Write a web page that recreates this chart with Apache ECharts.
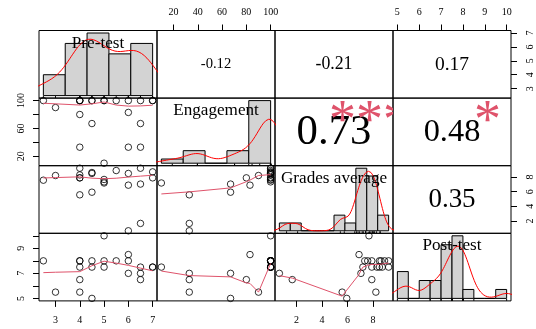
<!DOCTYPE html>
<html><head><meta charset="utf-8">
<script src="https://cdn.jsdelivr.net/npm/echarts@6/dist/echarts.min.js"></script>
<style>html,body{margin:0;padding:0;background:#fff}#c{width:536px;height:329px}</style>
</head><body><div id="c"></div>
<script>
// ---------------- data ----------------
const varNames = ['Pre-test', 'Engagement', 'Grades average', 'Post-test'];
const preTest    = [2.5, 3, 4, 4, 4, 4, 4, 4.5, 4.5, 4.5, 5, 5, 5, 5.5, 6, 6, 6, 6.5, 6.5, 6.5, 7, 7];
const engagement = [100, 90, 100, 100, 100, 80, 33, 100, 100, 67, 100, 100, 10, 100, 83, 100, 33, 100, 67, 33, 100, 100];
const grades     = [7.58, 8.22, 9.22, 7.9, 8.3, 7.9, 5.58, 8.63, 8.5, 5.94, 7.68, 7.35, 7.2, 8.9, 6.9, 8.5, 0.66, 9.22, 7.05, 1.67, 8.72, 7.9];
const postTest   = [8, 5.5, 8, 8, 7.5, 6.5, 5.5, 8, 7.5, 5, 10, 8, 7.5, 8, 8.5, 8, 7, 7.5, 7, 6.5, 7.5, 7.5];

const preBreaks  = [2.5, 3.4, 4.3, 5.2, 6.1, 7.0];
const engBreaks  = [0, 20, 40, 60, 80, 100];
const grdBreaks  = [0, 1, 2, 3, 4, 5, 6, 7, 8, 9, 10];
const postBreaks = [5, 5.5, 6, 6.5, 7, 7.5, 8, 8.5, 9, 9.5, 10];

const preTicks = [3, 4, 5, 6, 7];
const engTicks = [20, 40, 60, 80, 100];
const engLeftLabels = [20, 60, 100];
const grdTicks = [2, 4, 6, 8];
const postTicks = [5, 6, 7, 8, 9, 10];
const postLeftLabels = [5, 7, 9];

// upper panels in order (0,1),(0,2),(0,3),(1,2),(1,3),(2,3)
const corrLabels = ['-0.12', '-0.21', '0.17', '0.73', '0.48', '0.35'];
const corrStars  = ['', '', '', '***', '*', ''];

// ---------------- helpers ----------------
const FONT = '"Liberation Serif", "Times New Roman", serif';
const vars = [preTest, engagement, grades, postTest];
const breaksAll = [preBreaks, engBreaks, grdBreaks, postBreaks];
const N = preTest.length;
function ext(lo, hi) { const d = hi - lo; return [lo - 0.04 * d, hi + 0.04 * d]; }
const ranges = vars.map(v => ext(Math.min(...v), Math.max(...v)));

function lowess(xIn, yIn, f, nsteps) {
  const n = xIn.length;
  const idx = xIn.map((_, i) => i).sort((a, b) => (xIn[a] - xIn[b]) || (a - b));
  const x = idx.map(i => xIn[i]), y = idx.map(i => yIn[i]);
  const delta = 0.01 * (x[n - 1] - x[0]);
  const ys = new Array(n).fill(0), rw = new Array(n).fill(0), res = new Array(n).fill(0);
  const ns = Math.max(2, Math.min(n, Math.floor(f * n + 1e-7)));
  const X = i => x[i - 1], Y = i => y[i - 1];
  function lowest(xs, nleft, nright, userw) {
    const range = X(n) - X(1);
    const h = Math.max(xs - X(nleft), X(nright) - xs);
    const h9 = 0.999 * h, h1 = 0.001 * h;
    const w = res;
    let a = 0, j = nleft;
    while (j <= n) {
      w[j - 1] = 0;
      const r = Math.abs(X(j) - xs);
      if (r <= h9) {
        w[j - 1] = r <= h1 ? 1 : Math.pow(1 - Math.pow(r / h, 3), 3);
        if (userw) w[j - 1] *= rw[j - 1];
        a += w[j - 1];
      } else if (X(j) > xs) break;
      j++;
    }
    const nrt = j - 1;
    if (a <= 0) return null;
    for (j = nleft; j <= nrt; j++) w[j - 1] /= a;
    if (h > 0) {
      a = 0;
      for (j = nleft; j <= nrt; j++) a += w[j - 1] * X(j);
      let b = xs - a, c = 0;
      for (j = nleft; j <= nrt; j++) c += w[j - 1] * (X(j) - a) * (X(j) - a);
      if (Math.sqrt(c) > 0.001 * range) {
        b /= c;
        for (j = nleft; j <= nrt; j++) w[j - 1] *= (b * (X(j) - a) + 1);
      }
    }
    let s = 0;
    for (j = nleft; j <= nrt; j++) s += w[j - 1] * Y(j);
    return s;
  }
  let iter = 1;
  while (iter <= nsteps + 1) {
    let nleft = 1, nright = ns, last = 0, i = 1;
    for (;;) {
      if (nright < n) {
        const d1 = X(i) - X(nleft), d2 = X(nright + 1) - X(i);
        if (d1 > d2) { nleft++; nright++; continue; }
      }
      const v = lowest(X(i), nleft, nright, iter > 1);
      ys[i - 1] = v === null ? Y(i) : v;
      if (last < i - 1) {
        const denom = X(i) - X(last);
        for (let j = last + 1; j < i; j++) {
          const alpha = (X(j) - X(last)) / denom;
          ys[j - 1] = alpha * ys[i - 1] + (1 - alpha) * ys[last - 1];
        }
      }
      last = i;
      const cut = X(last) + delta;
      for (i = last + 1; i <= n; i++) {
        if (X(i) > cut) break;
        if (X(i) === X(last)) { ys[i - 1] = ys[last - 1]; last = i; }
      }
      i = Math.max(last + 1, i - 1);
      if (last >= n) break;
    }
    for (let k = 0; k < n; k++) res[k] = y[k] - ys[k];
    let sc = 0; for (let k = 0; k < n; k++) sc += Math.abs(res[k]); sc /= n;
    if (iter > nsteps) break;
    const ar = res.map(Math.abs).sort((a, b) => a - b);
    const m1 = Math.floor(n / 2);
    let cmad;
    if (n % 2 === 0) { const m2 = n - m1 - 1; cmad = 3 * (ar[m1] + ar[m2]); } else cmad = 6 * ar[m1];
    if (cmad < 1e-7 * sc) break;
    const c9 = 0.999 * cmad, c1 = 0.001 * cmad;
    for (let k = 0; k < n; k++) {
      const r = Math.abs(res[k]);
      rw[k] = r <= c1 ? 1 : (r <= c9 ? Math.pow(1 - Math.pow(r / cmad, 2), 2) : 0);
    }
    iter++;
  }
  return x.map((v, k) => [v, ys[k]]);
}

function quantile7(s, p) { const h = (s.length - 1) * p, lo = Math.floor(h); const hi = Math.min(lo + 1, s.length - 1); return s[lo] + (h - lo) * (s[hi] - s[lo]); }
function kde(x) {
  const n = x.length, s = [...x].sort((a, b) => a - b);
  const mean = x.reduce((a, b) => a + b, 0) / n;
  const sd = Math.sqrt(x.reduce((a, b) => a + (b - mean) ** 2, 0) / (n - 1));
  const iqr = quantile7(s, 0.75) - quantile7(s, 0.25);
  let lo = Math.min(sd, iqr / 1.34); if (!lo) lo = sd || Math.abs(x[0]) || 1;
  const bw = 0.9 * lo * Math.pow(n, -0.2);
  const from = s[0] - 3 * bw, to = s[n - 1] + 3 * bw, m = 300, out = [];
  for (let i = 0; i < m; i++) {
    const g = from + (to - from) * i / (m - 1);
    let d = 0; for (const v of x) { const z = (g - v) / bw; d += Math.exp(-0.5 * z * z); }
    out.push([g, d / (n * bw * Math.sqrt(2 * Math.PI))]);
  }
  return out;
}
function histCounts(x, b) {
  const c = new Array(b.length - 1).fill(0);
  for (const v of x) {
    for (let i = 0; i < b.length - 1; i++) {
      if ((v > b[i] + 1e-7 || (i === 0 && v >= b[0] - 1e-7)) && v <= b[i + 1] + 1e-7) { c[i]++; break; }
    }
  }
  return c;
}
const mctx = document.createElement('canvas').getContext('2d');
mctx.font = '100px ' + FONT;
function w100(t) { return mctx.measureText(t).width; }

// ---------------- layout ----------------
const L = 39, T = 30.5, PW = 118, PH = 67.6;
const grids = [], xAxes = [], yAxes = [], series = [];
function axisShown(k, range, pos, ticks, labels, rotate, margin) {
  return {
    type: 'value', gridIndex: k, min: range[0], max: range[1], position: pos, show: true,
    axisLine: { show: false }, splitLine: { show: false },
    axisTick: { show: true, length: 6, customValues: ticks, lineStyle: { color: '#000', width: 1 } },
    axisLabel: { show: true, customValues: labels, color: '#000', fontFamily: FONT, fontSize: 10, margin: margin, rotate: rotate }
  };
}
function axisHidden(k, range) {
  return { type: 'value', gridIndex: k, min: range[0], max: range[1], show: false, splitLine: { show: false } };
}

const labelFS = 0.9 * PW / Math.max(...varNames.map(w100)) * 100;
let ui = 0;
for (let r = 0; r < 4; r++) {
  for (let c = 0; c < 4; c++) {
    const k = r * 4 + c;
    grids.push({ left: L + c * PW, top: T + r * PH, width: PW, height: PH, show: true,
      borderColor: '#000', borderWidth: 1, backgroundColor: 'transparent', containLabel: false, outerBoundsMode: 'none' });
    if (r === c) {
      const b = breaksAll[c];
      const cnt = histCounts(vars[c], b);
      const dens = cnt.map((n, i) => n / (N * (b[i + 1] - b[i])));
      const dmax = Math.max(...dens);
      const xr = ext(b[0], b[b.length - 1]);
      const yr = [-0.04 * dmax, 1.04 * dmax];
      xAxes.push(axisHidden(k, xr));
      yAxes.push(axisHidden(k, yr));
      series.push({
        type: 'custom', xAxisIndex: k, yAxisIndex: k, clip: true, z: 2,
        data: dens.map((d, i) => [b[i], b[i + 1], d]),
        renderItem: (p, api) => {
          const a = api.coord([api.value(0), 0]), e = api.coord([api.value(1), api.value(2)]);
          return { type: 'rect', shape: { x: a[0], y: e[1], width: e[0] - a[0], height: a[1] - e[1] },
            style: { fill: '#D3D3D3', stroke: '#000', lineWidth: 1 } };
        }
      });
      series.push({ type: 'line', xAxisIndex: k, yAxisIndex: k, data: kde(vars[c]), showSymbol: false, symbol: 'none',
        clip: true, z: 3, lineStyle: { color: '#FF0000', width: 1 } });
      const rugLen = 0.03 * (yr[1] - yr[0]);
      series.push({
        type: 'custom', xAxisIndex: k, yAxisIndex: k, clip: true, z: 3,
        data: vars[c].map(v => [v, yr[0], yr[0] + rugLen]),
        renderItem: (p, api) => {
          const a = api.coord([api.value(0), api.value(1)]), e = api.coord([api.value(0), api.value(2)]);
          return { type: 'line', shape: { x1: a[0], y1: a[1], x2: e[0], y2: e[1] }, style: { stroke: '#000', lineWidth: 1 } };
        }
      });
      const name = varNames[c];
      series.push({
        type: 'custom', xAxisIndex: k, yAxisIndex: k, clip: false, z: 5,
        data: [[(xr[0] + xr[1]) / 2, yr[0] + 0.8333 * (yr[1] - yr[0])]],
        renderItem: (p, api) => {
          const a = api.coord([api.value(0), api.value(1)]);
          return { type: 'text', x: a[0], y: a[1] + 0.08 * labelFS, style: { text: name, fontFamily: FONT, fontSize: labelFS, fill: '#000', align: 'center', verticalAlign: 'middle' } };
        }
      });
    } else {
      const xr = ranges[c], yr = ranges[r];
      let xa = axisHidden(k, xr), ya = axisHidden(k, yr);
      if (r === 0 && c === 1) xa = axisShown(k, xr, 'top', engTicks, engTicks, 0, 13);
      if (r === 0 && c === 3) xa = axisShown(k, xr, 'top', postTicks, postTicks, 0, 13);
      if (r === 3 && c === 0) xa = axisShown(k, xr, 'bottom', preTicks, preTicks, 0, 14);
      if (r === 3 && c === 2) xa = axisShown(k, xr, 'bottom', grdTicks, grdTicks, 0, 14);
      if (r === 1 && c === 0) ya = axisShown(k, yr, 'left', engTicks, engLeftLabels, 90, 13);
      if (r === 3 && c === 0) ya = axisShown(k, yr, 'left', postTicks, postLeftLabels, 90, 13);
      if (r === 0 && c === 3) ya = axisShown(k, yr, 'right', preTicks, preTicks, 90, 14);
      if (r === 2 && c === 3) ya = axisShown(k, yr, 'right', grdTicks, grdTicks, 90, 14);
      xAxes.push(xa); yAxes.push(ya);
      if (r > c) {
        series.push({ type: 'scatter', xAxisIndex: k, yAxisIndex: k, symbol: 'circle', symbolSize: 6.5, z: 3,
          data: vars[c].map((v, i) => [v, vars[r][i]]),
          itemStyle: { color: 'rgba(0,0,0,0)', borderColor: '#000', borderWidth: 1 } });
        series.push({ type: 'line', xAxisIndex: k, yAxisIndex: k, data: lowess(vars[c], vars[r], 2 / 3, 3),
          showSymbol: false, symbol: 'none', clip: true, z: 4, lineStyle: { color: '#DF536B', width: 1 } });
      } else {
        const txt = corrLabels[ui], stars = corrStars[ui];
        ui++;
        const full = 0.8 * PW / w100(txt) * 100;
        const rv = Math.abs(parseFloat(txt));
        const fs = full * (rv + 0.3) / 1.3;
        series.push({
          type: 'custom', xAxisIndex: k, yAxisIndex: k, clip: false, z: 5,
          data: [[xr[0] + 0.5 * (xr[1] - xr[0]), yr[0] + 0.5 * (yr[1] - yr[0])]],
          renderItem: (p, api) => {
            const a = api.coord([api.value(0), api.value(1)]);
            return { type: 'text', x: a[0], y: a[1] + 0.02 * fs, style: { text: txt, fontFamily: FONT,
              fontSize: fs, fill: '#000', align: 'center', verticalAlign: 'middle' } };
          }
        });
        if (stars) {
          series.push({
            type: 'custom', xAxisIndex: k, yAxisIndex: k, clip: true, z: 5,
            data: [[xr[0] + 0.8 * (xr[1] - xr[0]), yr[0] + 0.8 * (yr[1] - yr[0])]],
            renderItem: (p, api) => {
              const a = api.coord([api.value(0), api.value(1)]);
              return { type: 'text', x: a[0], y: a[1] + 0.2 * full, style: { text: stars, fontFamily: FONT,
                fontSize: full, fill: '#DF536B', align: 'center', verticalAlign: 'middle' } };
            }
          });
        }
      }
    }
  }
}

const chart = echarts.init(document.getElementById('c'), null, { renderer: 'canvas' });
chart.setOption({ animation: false, backgroundColor: '#fff', grid: grids, xAxis: xAxes, yAxis: yAxes, series: series });
</script></body></html>
